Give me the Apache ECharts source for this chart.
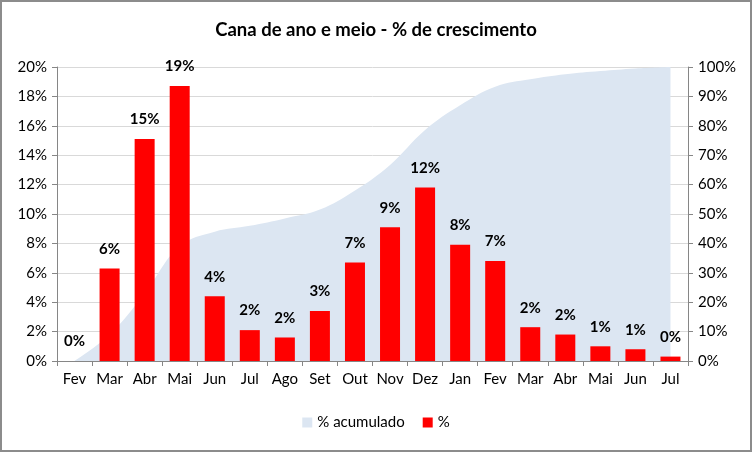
<!DOCTYPE html>
<html><head><meta charset="utf-8">
<script src="https://cdn.jsdelivr.net/npm/echarts@6/dist/echarts.min.js"></script>
<style>html,body{margin:0;padding:0;background:#fff}#c{width:752px;height:452px;box-sizing:border-box;border:2px solid #8c8c8c}</style>
</head><body><div id="c"></div>
<script>
const categories = ['Fev','Mar','Abr','Mai','Jun','Jul','Ago','Set','Out','Nov','Dez','Jan','Fev','Mar','Abr','Mai','Jun','Jul'];
const growthPct = [0, 6.3, 15.1, 18.7, 4.4, 2.1, 1.6, 3.4, 6.7, 9.1, 11.8, 7.9, 6.8, 2.3, 1.8, 1.0, 0.8, 0.3];
const cumulativePct = [0, 9, 23, 39, 44, 46, 48.5, 51.5, 58, 66.7, 78.6, 87, 93.3, 95.8, 97.5, 98.6, 99.5, 100];
const leftTicks = {min:0, max:20, interval:2};
const rightTicks = {min:0, max:100, interval:10};

const FONT = 'Lato';
const chart = echarts.init(document.getElementById('c'), null, {renderer:'canvas'});
chart.setOption({
  animation:false,
  textStyle:{fontFamily:FONT},
  title:{text:'Cana de ano e meio - % de crescimento', left:'center', top:14,
    textStyle:{fontFamily:FONT, fontSize:18.5, fontWeight:'bold', color:'#000'}},
  legend:{bottom:15, left:'center', itemWidth:10, itemHeight:10, itemGap:18,
    textStyle:{fontFamily:FONT, fontSize:15, color:'#000'},
    data:[{name:'% acumulado', icon:'rect'},{name:'%', icon:'rect'}]},
  grid:{left:55, right:62, top:65, bottom:89},
  xAxis:{type:'category', data:categories, boundaryGap:true,
    axisLine:{lineStyle:{color:'#868686'}},
    axisTick:{show:true, alignWithLabel:false, length:5, lineStyle:{color:'#868686'}},
    axisLabel:{fontFamily:FONT, fontSize:15, color:'#000', margin:11, interval:0, hideOverlap:false}},
  yAxis:[
    {type:'value', min:leftTicks.min, max:leftTicks.max, interval:leftTicks.interval,
      axisLine:{show:true, lineStyle:{color:'#868686'}},
      axisTick:{show:true, length:5, lineStyle:{color:'#868686'}},
      splitLine:{lineStyle:{color:'#d9d9d9'}},
      axisLabel:{fontFamily:FONT, fontSize:15, color:'#000', formatter:'{value}%', margin:10}},
    {type:'value', min:rightTicks.min, max:rightTicks.max, interval:rightTicks.interval,
      position:'right',
      axisLine:{show:true, lineStyle:{color:'#868686'}},
      axisTick:{show:true, length:5, lineStyle:{color:'#868686'}},
      splitLine:{show:false},
      axisLabel:{fontFamily:FONT, fontSize:15, color:'#000', formatter:'{value}%', margin:10}}
  ],
  series:[
    {name:'% acumulado', type:'line', yAxisIndex:1, data:cumulativePct, smooth:0.4,
      symbol:'none', lineStyle:{width:0}, itemStyle:{color:'#dce6f2'},
      areaStyle:{color:'#dce6f2', opacity:1}, z:1},
    {name:'%', type:'bar', yAxisIndex:0, data:growthPct, barWidth:20,
      itemStyle:{color:'#ff0000'}, z:3,
      label:{show:true, position:'top', distance:12, fontFamily:FONT, fontSize:15, fontWeight:'bold', color:'#000',
        formatter:p=>Math.round(p.value)+'%'}}
  ]
});
</script></body></html>
